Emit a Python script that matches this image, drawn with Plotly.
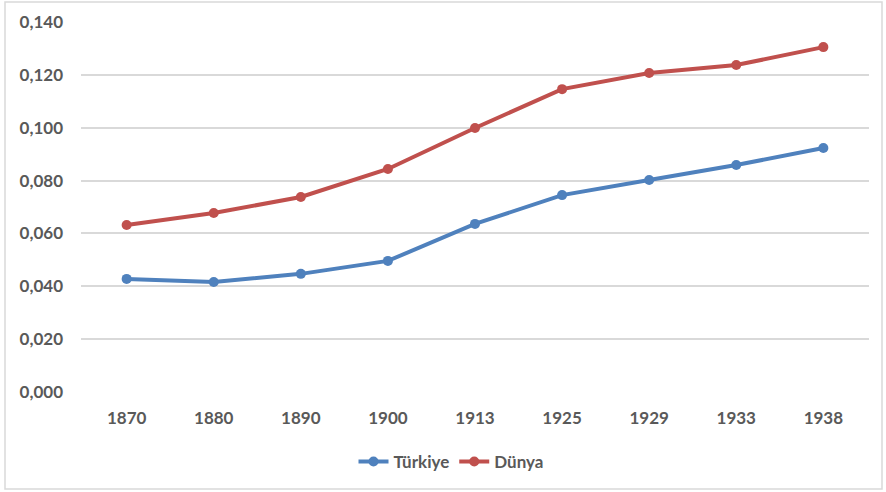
import plotly.graph_objects as go

years = ["1870", "1880", "1890", "1900", "1913", "1925", "1929", "1933", "1938"]
turkiye = [0.0428, 0.0416, 0.0447, 0.0496, 0.0636, 0.0745, 0.0802, 0.0859, 0.0923]
dunya = [0.0632, 0.0677, 0.0738, 0.0844, 0.0999, 0.1146, 0.1207, 0.1237, 0.1305]
y_ticks = [0.0, 0.02, 0.04, 0.06, 0.08, 0.10, 0.12, 0.14]

W, H = 886, 492
L, R, T, B = 81, 17, 22, 100
pw, ph = W - L - R, H - T - B

fig = go.Figure()
fig.add_trace(go.Scatter(x=years, y=turkiye, name="Türkiye", mode="lines+markers",
                         line=dict(color="#4F81BD", width=4), marker=dict(size=10, color="#4F81BD")))
fig.add_trace(go.Scatter(x=years, y=dunya, name="Dünya", mode="lines+markers",
                         line=dict(color="#C0504D", width=4), marker=dict(size=10, color="#C0504D")))

font = dict(family="Lato, Open Sans, sans-serif", size=17, color="#595959", weight="bold")

fig.update_layout(
    width=W, height=H,
    margin=dict(l=L, r=R, t=T, b=B),
    paper_bgcolor="white", plot_bgcolor="white",
    separators=", ",
    font=font,
    showlegend=True,
    legend=dict(orientation="h", x=(451 - L) / pw, xanchor="center", y=(392 - 462) / ph, yanchor="middle",
                font=font, traceorder="normal"),
    xaxis=dict(type="category", showgrid=False, zeroline=False, showline=False, ticks="",
               tickfont=font, ticklabelstandoff=14),
    yaxis=dict(range=[0, 0.14], tickvals=y_ticks, tickformat=".3f", showgrid=True,
               gridcolor="#D9D9D9", gridwidth=1.5, zeroline=False, showline=False, ticks="",
               tickfont=font, ticklabelstandoff=17),
    shapes=[dict(type="rect", xref="paper", yref="paper",
                 x0=(5 - L) / pw, x1=(882 - L) / pw,
                 y0=(H - B - 489) / ph, y1=(H - B - 2) / ph,
                 line=dict(color="#D9D9D9", width=1.5), fillcolor="rgba(0,0,0,0)", layer="below")],
)

fig.write_html("out.html", config={"displayModeBar": False},
               post_script="document.body.style.margin='0';document.body.style.overflow='hidden';")
